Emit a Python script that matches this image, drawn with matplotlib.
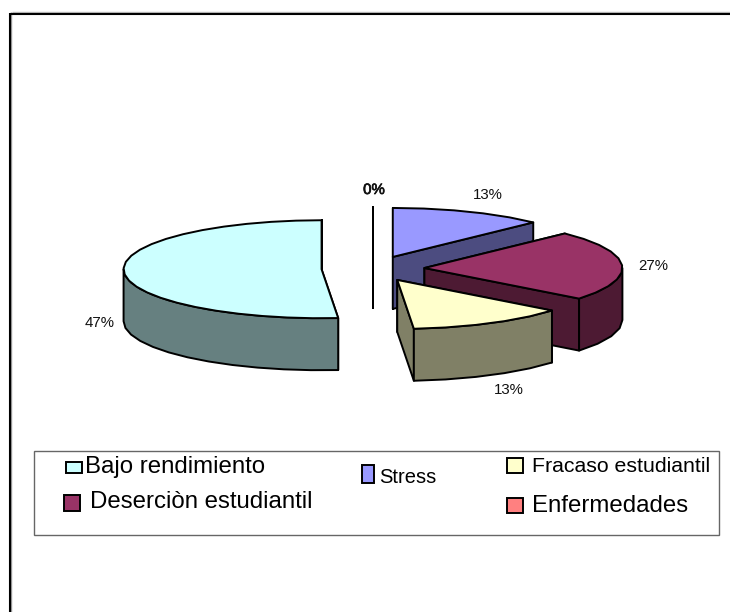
import numpy as np
import matplotlib
matplotlib.use('Agg')
import matplotlib.pyplot as plt
from matplotlib.patches import Polygon, Rectangle
import matplotlib.patheffects as pe

# clockwise from the top of the pie
categories = ['Stress', 'Deserciòn estudiantil', 'Fracaso estudiantil', 'Bajo rendimiento', 'Enfermedades']
counts = [2, 4, 2, 7, 0]
top_colors = ['#9999FF', '#993366', '#FFFFCC', '#CCFFFF', '#FF8080']
side_colors = ['#4C4C80', '#4D1A33', '#808066', '#668080', '#804040']

plt.rcParams['font.family'] = ['Liberation Sans', 'DejaVu Sans']

# -- layout, everything in pixels of the 730x612 picture
cx, cy = 373, 268.7
rx, ry = 198, 49
depth = 52
explode = 0.26
persp = 8.5  # excel's 3d view squeezes the angles towards the front
draw_order = [4, 0, 3, 1, 2]
label_pos = [(488, 195), (653, 266), (509, 390), (100, 323), (374, 190)]


def warp(t):
    return t - persp * (1 - np.cos(np.radians(t)))


def rim(t, ox, oy):
    a = np.radians(t)
    return np.column_stack([ox + rx * np.sin(a), oy - ry * np.cos(a)])


def down(pts):
    return pts + np.array([0, depth])


fig = plt.figure(figsize=(7.3, 6.12), dpi=100)
ax = fig.add_axes([0, 0, 1, 1])
ax.set_xlim(0, 730)
ax.set_ylim(612, 0)
ax.axis('off')

# outer frame, black with a thin grey edge
ax.plot([11.5, 730], [12, 12], color='#BBBBBB', lw=1, solid_capstyle='butt')
ax.plot([11, 11], [12, 612], color='#999999', lw=1, solid_capstyle='butt')
ax.plot([9.5, 730], [13.7, 13.7], color='black', lw=1.5, solid_capstyle='butt')
ax.plot([9.7, 9.7], [13, 612], color='black', lw=1.5, solid_capstyle='butt')

total = sum(counts)
edges = np.concatenate([[0], np.cumsum(counts)]) * 360 / total

for i in draw_order:
    t0, t1 = warp(edges[i]), warp(edges[i + 1])
    mid = np.radians((t0 + t1) / 2)
    ox = cx + explode * rx * np.sin(mid)
    oy = cy - explode * ry * np.cos(mid)
    apex = np.array([[ox, oy]])
    ts = np.linspace(t0, t1, max(int((t1 - t0) / 7), 2))
    arc = rim(ts, ox, oy)
    style = dict(edgecolor='black', lw=1.4, joinstyle='round')

    # radial walls
    for t in (t0, t1):
        wall = np.vstack([apex, rim(np.array([t]), ox, oy)])
        ax.add_patch(Polygon(np.vstack([wall, down(wall)[::-1]]), facecolor=side_colors[i], **style))

    # outer wall, only the front half shows
    lo, hi = max(t0, 90), min(t1, 270)
    if hi > lo:
        front = rim(np.linspace(lo, hi, max(int((hi - lo) / 7), 2)), ox, oy)
        ax.add_patch(Polygon(np.vstack([front, down(front)[::-1]]), facecolor=side_colors[i], **style))

    ax.add_patch(Polygon(np.vstack([apex, arc]), facecolor=top_colors[i], **style))

for i, (x, y) in enumerate(label_pos):
    txt = ax.text(x, y, '%d%%' % round(100 * counts[i] / total), fontsize=10.8,
                  ha='center', va='center', color='#111111')
    if counts[i] == 0:
        txt.set_path_effects([pe.withStroke(linewidth=0.5, foreground='#111111')])

# -- legend, hand placed like the original text boxes
ax.add_patch(Rectangle((33.7, 450.7), 685.3, 84, facecolor='white', edgecolor='#666666', lw=1))

legend_order = [3, 0, 2, 1, 4]
legend_boxes = [(66, 462, 16, 11), (362, 465, 12, 18), (507, 458, 16, 15), (64, 495, 16, 16), (507, 498, 16, 15)]
legend_text = [(85, 472.5, 17.3), (379, 483, 14.5), (532, 472, 15.3), (90, 508, 17.3), (532, 512, 17.3)]

for i, box, tx in zip(legend_order, legend_boxes, legend_text):
    ax.add_patch(Rectangle(box[:2], box[2], box[3], facecolor=top_colors[i], edgecolor='black', lw=1.4))
    ax.text(tx[0], tx[1], categories[i], fontsize=tx[2], ha='left', va='baseline', color='black')

plt.savefig('out.png', dpi=100)
